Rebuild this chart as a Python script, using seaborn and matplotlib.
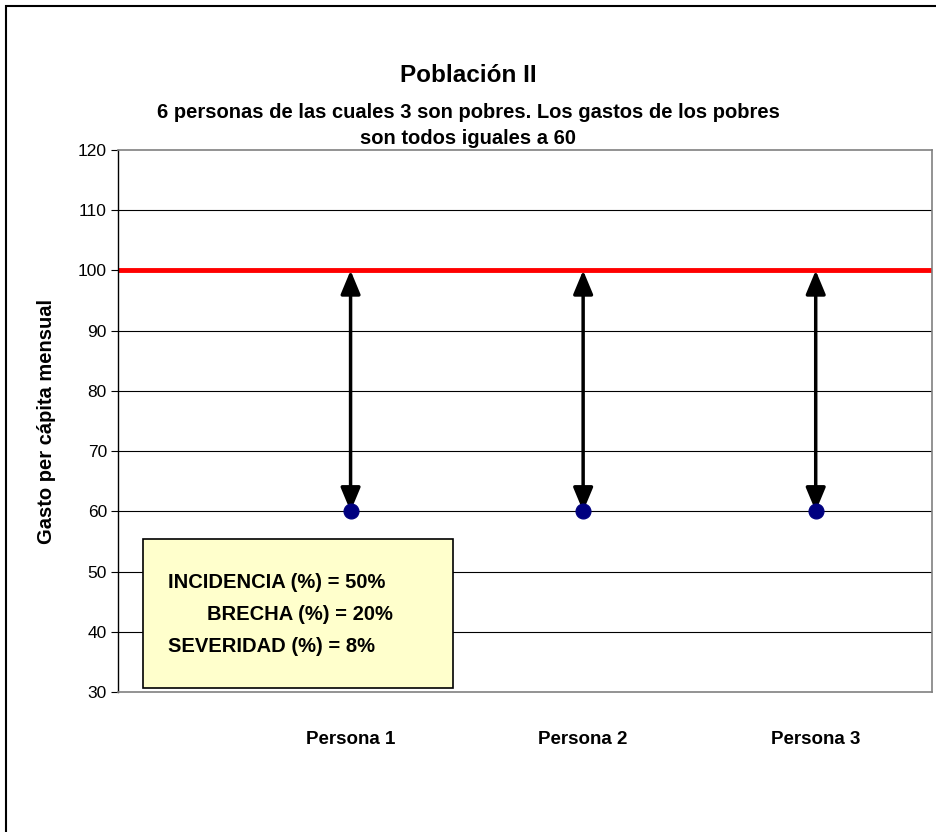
import matplotlib
matplotlib.use("Agg")
import matplotlib.pyplot as plt
import pandas as pd
import seaborn as sns
from matplotlib.patches import Rectangle

# datos
personas = ["Persona 1", "Persona 2", "Persona 3"]
posiciones = [1, 2, 3]
gastos = [60, 60, 60]
linea_pobreza = 100
y_ticks = [30, 40, 50, 60, 70, 80, 90, 100, 110, 120]
indicadores = ["INCIDENCIA (%) = 50%", "BRECHA (%) = 20%", "SEVERIDAD (%) = 8%"]

df = pd.DataFrame({"persona": personas, "x": posiciones, "gasto": gastos})

sns.set_theme(style="white")
plt.rcParams["font.family"] = ["Liberation Sans", "DejaVu Sans"]
plt.rcParams["text.color"] = "black"
plt.rcParams["axes.labelcolor"] = "black"
plt.rcParams["ytick.color"] = "black"

fig = plt.figure(figsize=(9.36, 8.32), dpi=100)
ax = fig.add_axes([118 / 936, 1 - 692 / 832, 814 / 936, 542 / 832])

# rejilla horizontal
for v in y_ticks[1:-1]:
    ax.axhline(v, color="black", lw=0.8, zorder=1)

# linea de pobreza
ax.axhline(linea_pobreza, color="#ff0000", lw=3.5, zorder=2)

# flechas entre gasto y linea de pobreza
for xi, g in zip(df["x"], df["gasto"]):
    ax.annotate("", xy=(xi, linea_pobreza), xytext=(xi, g),
                arrowprops=dict(arrowstyle="<|-|>,head_length=1.2,head_width=0.5",
                                color="black", lw=2.5, shrinkA=0, shrinkB=0),
                zorder=3)

sns.scatterplot(data=df, x="x", y="gasto", color="#000080", s=115,
                edgecolor="#000080", ax=ax, zorder=4, legend=False)

ax.set_xlim(0, 3.5)
ax.set_ylim(30, 120)
ax.set_yticks(y_ticks)
ax.set_xticks([])
ax.tick_params(axis="y", direction="out", length=5, width=0.8, color="black",
               labelsize=12.5, pad=3, left=True)
ax.set_xlabel("")
ax.set_ylabel("Gasto per cápita mensual", fontsize=14.5, fontweight="bold", labelpad=16)

for s in ["top", "right", "bottom"]:
    ax.spines[s].set_color("#808080")
    ax.spines[s].set_linewidth(1.2)
ax.spines["left"].set_color("black")
ax.spines["left"].set_linewidth(1)

# etiquetas de categorias
for xi, nombre in zip(posiciones, personas):
    ax.text(xi, 23.6, nombre, ha="center", va="top",
            fontsize=13.5, fontweight="bold")

# cuadro de indicadores
caja = Rectangle((143 / 936, 1 - 688 / 832), 310 / 936, 149 / 832,
                 transform=fig.transFigure, facecolor="#ffffcc",
                 edgecolor="black", lw=1.2, zorder=5)
fig.patches.append(caja)
fig.text(168 / 936, 1 - 582 / 832, indicadores[0], fontsize=14.5, fontweight="bold",
         va="center", ha="left", zorder=6)
fig.text(207 / 936, 1 - 614 / 832, indicadores[1], fontsize=14.5, fontweight="bold",
         va="center", ha="left", zorder=6)
fig.text(168 / 936, 1 - 646 / 832, indicadores[2], fontsize=14.5, fontweight="bold",
         va="center", ha="left", zorder=6)

# titulos
fig.text(468 / 936, 1 - 75 / 832, "Población II", fontsize=17.5, fontweight="bold",
         ha="center", va="center")
fig.text(468 / 936, 1 - 113 / 832,
         "6 personas de las cuales 3 son pobres. Los gastos de los pobres",
         fontsize=14.5, fontweight="bold", ha="center", va="center")
fig.text(468 / 936, 1 - 139 / 832, "son todos iguales a 60",
         fontsize=14.5, fontweight="bold", ha="center", va="center")

# marco del grafico
marco = Rectangle((6 / 936, -0.05), 1.0, 1.05 - 6 / 832, transform=fig.transFigure,
                  fill=False, edgecolor="black", lw=1.5)
fig.patches.append(marco)

fig.savefig("out.png", dpi=100, facecolor="white")
